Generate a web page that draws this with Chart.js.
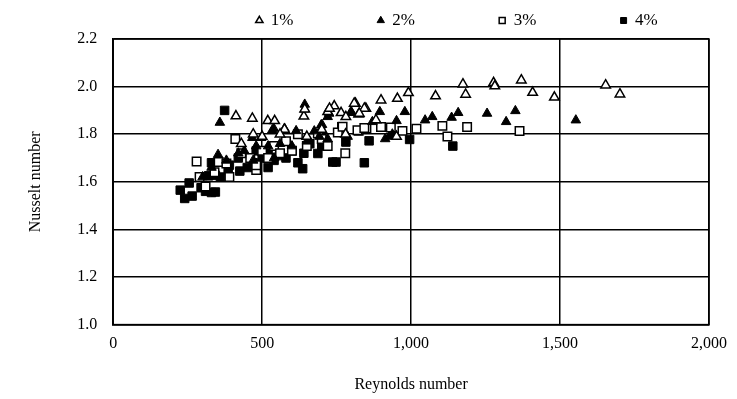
<!DOCTYPE html>
<html>
<head>
<meta charset="utf-8">
<script src="https://cdn.jsdelivr.net/npm/chart.js@4"></script>
<style>
html,body{margin:0;padding:0;background:#fff;}
#wrap{width:737px;height:399px;}
</style>
</head>
<body>
<div id="wrap"><canvas id="c" width="737" height="399"></canvas></div>
<script>
const seriesNames = ["1%", "2%", "3%", "4%"];
const xTicks = [0, 500, 1000, 1500, 2000];
const yTicks = [1.0, 1.2, 1.4, 1.6, 1.8, 2.0, 2.2];

const s1 = [[412,1.876],[467,1.866],[519,1.856],[542,1.856],[575,1.82],[640,1.875],[643,1.905],[720,1.894],[742,1.918],[765,1.89],[781,1.873],[813,1.929],[848,1.908],[824,1.884],[899,1.943],[954,1.95],[991,1.974],[1082,1.96],[1174,2.01],[1183,1.967],[1277,2.016],[1281,2.002],[1370,2.027],[1408,1.975],[1481,1.955],[1653,2.006],[1701,1.968],[882,1.86],[951,1.79],[726,1.908],[809,1.929],[843,1.908],[826,1.887],[470,1.80],[500,1.79],[560,1.80],[700,1.82],[650,1.79],[780,1.80],[430,1.76]];
const s2 = [[358,1.849],[352,1.714],[467,1.785],[497,1.785],[534,1.817],[539,1.824],[575,1.824],[614,1.814],[643,1.925],[643,1.905],[675,1.813],[698,1.838],[701,1.84],[720,1.873],[725,1.887],[798,1.894],[801,1.89],[895,1.894],[979,1.894],[870,1.852],[951,1.856],[1047,1.859],[1071,1.873],[1136,1.87],[1158,1.89],[1255,1.887],[1350,1.898],[1319,1.852],[1553,1.859],[913,1.78],[926,1.79],[937,1.80],[692,1.79],[720,1.78],[787,1.79],[440,1.73],[520,1.75],[560,1.76],[600,1.75],[480,1.75],[420,1.72],[380,1.69],[330,1.66],[300,1.62],[650,1.77],[540,1.70],[470,1.69]];
const s3 = [[410,1.78],[354,1.683],[380,1.677],[480,1.65],[290,1.62],[280,1.685],[768,1.83],[824,1.814],[850,1.824],[899,1.83],[932,1.828],[971,1.814],[1018,1.823],[1105,1.835],[1188,1.83],[1122,1.79],[779,1.72],[1364,1.813],[687,1.803],[754,1.807],[770,1.831],[820,1.817],[843,1.826],[620,1.80],[580,1.77],[540,1.75],[500,1.73],[460,1.70],[430,1.72],[650,1.75],[700,1.78],[600,1.73],[520,1.70],[560,1.72],[340,1.64],[310,1.58],[390,1.62],[480,1.67],[720,1.75]];
const s4 = [[374,1.90],[343,1.627],[386,1.65],[425,1.645],[343,1.557],[225,1.565],[240,1.53],[265,1.54],[255,1.595],[295,1.575],[310,1.56],[330,1.555],[320,1.625],[330,1.68],[636,1.655],[687,1.719],[737,1.683],[748,1.683],[781,1.767],[859,1.772],[843,1.68],[995,1.778],[1140,1.75],[470,1.68],[500,1.70],[520,1.72],[540,1.69],[560,1.71],[580,1.70],[600,1.73],[640,1.72],[660,1.76],[700,1.75],[480,1.73],[450,1.66],[420,1.70],[390,1.67],[360,1.62],[620,1.68],[520,1.66]];

const toPts = a => a.map(p => ({x: p[0], y: p[1]}));
const FONT = "'Liberation Serif', 'Times New Roman', serif";
const GAP = ' '.repeat(17);
const LAST_GAP = ' '.repeat(13);

const boxPlugin = {
  id: 'box',
  afterDraw(chart) {
    const {ctx, chartArea: a} = chart;
    ctx.save();
    ctx.strokeStyle = '#000';
    ctx.lineWidth = 1.5;
    ctx.strokeRect(a.left, a.top, a.right - a.left, a.bottom - a.top);
    ctx.restore();
  }
};

const chart = new Chart(document.getElementById('c'), {
  type: 'scatter',
  data: {
    datasets: [
      {label: seriesNames[0], data: toPts(s1), pointStyle: 'triangle', pointRadius: 5.5, backgroundColor: '#fff', borderColor: '#000', borderWidth: 1.5},
      {label: seriesNames[1], data: toPts(s2), pointStyle: 'triangle', pointRadius: 5.5, backgroundColor: '#000', borderColor: '#000', borderWidth: 1},
      {label: seriesNames[2], data: toPts(s3), pointStyle: 'rect', pointRadius: 6, backgroundColor: '#fff', borderColor: '#000', borderWidth: 1.5},
      {label: seriesNames[3], data: toPts(s4), pointStyle: 'rect', pointRadius: 6, backgroundColor: '#000', borderColor: '#000', borderWidth: 1}
    ]
  },
  options: {
    responsive: false,
    animation: false,
    layout: {padding: {left: 22, right: 12, top: 0, bottom: 1}},
    plugins: {
      legend: {
        position: 'top',
        align: 'end',
        labels: {
          usePointStyle: true,
          boxWidth: 6, boxHeight: 6,
          padding: 12,
          color: '#000',
          font: {family: FONT, size: 17},
          generateLabels: ch => {
            const items = Chart.defaults.plugins.legend.labels.generateLabels(ch);
            items.forEach((it, i) => { it.text = it.text + (i === items.length - 1 ? LAST_GAP : GAP); });
            return items;
          }
        }
      },
      tooltip: {enabled: false}
    },
    scales: {
      x: {
        type: 'linear', min: 0, max: 2000,
        afterBuildTicks: ax => { ax.ticks = xTicks.map(v => ({value: v})); },
        ticks: {color: '#000', font: {family: FONT, size: 16}, callback: v => v.toLocaleString('en-US'), padding: 10},
        grid: {color: '#000', lineWidth: 1.5, drawTicks: false},
        border: {color: '#000', width: 1.5},
        title: {display: true, text: 'Reynolds number', color: '#000', font: {family: FONT, size: 16}, padding: {top: 11, bottom: 4}}
      },
      y: {
        type: 'linear', min: 1.0, max: 2.2,
        afterBuildTicks: ax => { ax.ticks = yTicks.map(v => ({value: v})); },
        ticks: {color: '#000', font: {family: FONT, size: 16}, callback: v => Number(v).toFixed(1), padding: 16},
        grid: {color: '#000', lineWidth: 1.5, drawTicks: false},
        border: {color: '#000', width: 1.5},
        title: {display: true, text: 'Nusselt number', color: '#000', font: {family: FONT, size: 16}, padding: {top: 4, bottom: 16}}
      }
    }
  },
  plugins: [boxPlugin]
});
</script>
</body>
</html>
